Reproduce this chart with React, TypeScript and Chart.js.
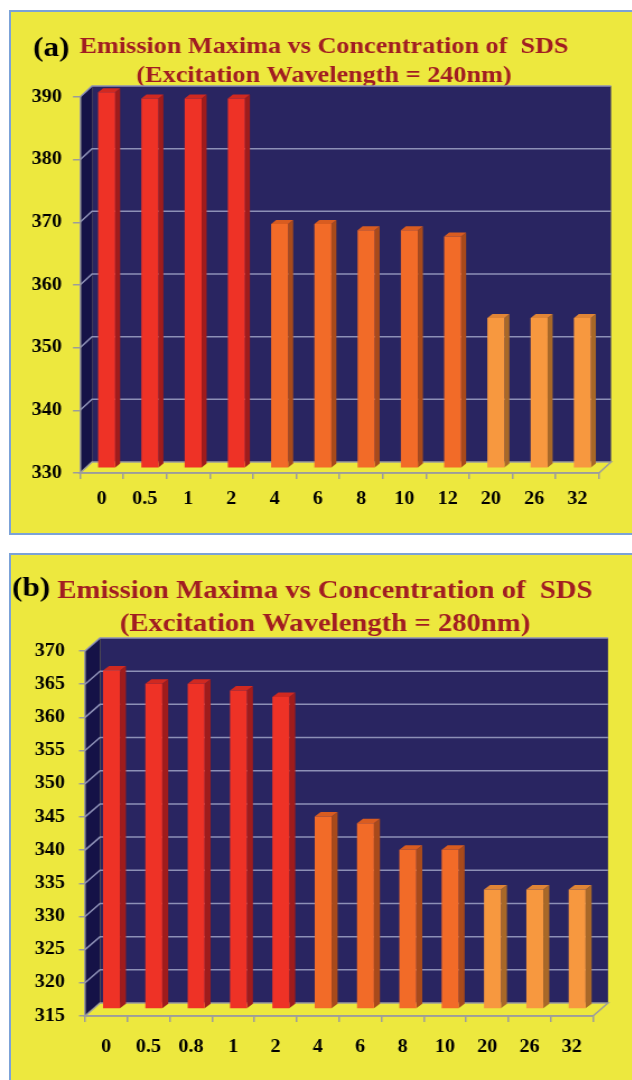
import React, { useEffect, useRef } from 'react';
import { Chart, registerables } from 'chart.js';

Chart.register(...registerables);

// The figure is wider than its lettering: each canvas is drawn narrow and stretched out horizontally.
const STRETCH = 1.12;
const PAGE_W = 632;
const PAGE_H = 1080;
const CANVAS_W = Math.floor(PAGE_W / STRETCH);

const YELLOW = '#ede83e';
const FRAME = '#7ba2d8';
const NAVY = '#292561';
const NAVY_SIDE = '#151247';
const GRID = '#8d90b6';
const AXIS = '#9c9c9c';
const TITLE_RED = '#a11d22';
const SERIF = '"Liberation Serif", "Times New Roman", serif';

// Panel (a): excitation at 240 nm
const concentrationsA = ['0', '0.5', '1', '2', '4', '6', '8', '10', '12', '20', '26', '32'];
const emissionA = [390, 389, 389, 389, 369, 369, 368, 368, 367, 354, 354, 354];
const yMinA = 330;
const yMaxA = 390;
const yStepA = 10;
const titleA = ['Emission Maxima vs Concentration of  SDS', '(Excitation Wavelength = 240nm)'];

// Panel (b): excitation at 280 nm
const concentrationsB = ['0', '0.5', '0.8', '1', '2', '4', '6', '8', '10', '20', '26', '32'];
const emissionB = [366, 364, 364, 363, 362, 344, 343, 339, 339, 333, 333, 333];
const yMinB = 315;
const yMaxB = 370;
const yStepB = 5;
const titleB = ['Emission Maxima vs Concentration of  SDS', '(Excitation Wavelength = 280nm)'];

type Tone = { front: string; top: string; side: string };
const RED: Tone = { front: '#ee3226', top: '#d02920', side: '#9f1c1c' };
const ORANGE: Tone = { front: '#f26b28', top: '#d95c20', side: '#a84a1b' };
const AMBER: Tone = { front: '#f7983f', top: '#e08536', side: '#a86828' };

const tonesA: Tone[] = [RED, RED, RED, RED, ORANGE, ORANGE, ORANGE, ORANGE, ORANGE, AMBER, AMBER, AMBER];
const tonesB: Tone[] = [RED, RED, RED, RED, RED, ORANGE, ORANGE, ORANGE, ORANGE, AMBER, AMBER, AMBER];

type PanelCfg = {
  tag: string;
  title: string[];
  labels: string[];
  values: number[];
  tones: Tone[];
  yMin: number;
  yMax: number;
  yStep: number;
  top: number; // page y of the panel
  height: number;
  frontLeft: number;
  frontRight: number;
  yTopPx: number;
  yBottomPx: number;
  wallDx: number;
  wallDy: number;
  barDx: number;
  barDy: number;
  barSide: number;
  barTop: number;
  barFrac: number;
  yTickLen: number;
  yLabelRight: number;
  xTickLen: number;
  xLabelPad: number;
  tickSize: number;
  titleX: number;
  titleY1: number;
  titleY2: number;
  titleSize: number;
  tagX: number;
  tagY: number;
  tagSize: number;
};

const panelA: PanelCfg = {
  tag: '(a)',
  title: titleA,
  labels: concentrationsA,
  values: emissionA,
  tones: tonesA,
  yMin: yMinA,
  yMax: yMaxA,
  yStep: yStepA,
  top: 10,
  height: 525,
  frontLeft: 80,
  frontRight: 599,
  yTopPx: 97,
  yBottomPx: 473,
  wallDx: 12,
  wallDy: -11,
  barDx: 5,
  barDy: -4.7,
  barSide: 5,
  barTop: 4,
  barFrac: 0.394,
  yTickLen: 7,
  yLabelRight: 62,
  xTickLen: 6,
  xLabelPad: 10,
  tickSize: 18,
  titleX: 324,
  titleY1: 53,
  titleY2: 82,
  titleSize: 23.4,
  tagX: 33,
  tagY: 56,
  tagSize: 28,
};

const panelB: PanelCfg = {
  tag: '(b)',
  title: titleB,
  labels: concentrationsB,
  values: emissionB,
  tones: tonesB,
  yMin: yMinB,
  yMax: yMaxB,
  yStep: yStepB,
  top: 553,
  height: PAGE_H - 553,
  frontLeft: 85,
  frontRight: 593,
  yTopPx: 651,
  yBottomPx: 1016,
  wallDx: 15,
  wallDy: -13,
  barDx: 5.3,
  barDy: -7,
  barSide: 6,
  barTop: 4.5,
  barFrac: 0.4,
  yTickLen: 6,
  yLabelRight: 65,
  xTickLen: 6,
  xLabelPad: 15,
  tickSize: 18,
  titleX: 325,
  titleY1: 598,
  titleY2: 631,
  titleSize: 25.6,
  tagX: 12,
  tagY: 596,
  tagSize: 28,
};

function Panel({ cfg }: { cfg: PanelCfg }) {
  const ref = useRef<HTMLCanvasElement>(null);

  useEffect(() => {
    const canvas = ref.current;
    if (!canvas) return;
    const H = cfg.height;
    const cx = (px: number) => px / STRETCH;
    const cy = (py: number) => py - cfg.top;

    const plotLeft = cx(cfg.frontLeft);
    const plotRight = cx(cfg.frontRight);
    const plotTop = cy(cfg.yTopPx);
    const plotBottom = cy(cfg.yBottomPx);
    const wdx = cfg.wallDx / STRETCH;
    const wdy = cfg.wallDy;
    const bdx = cfg.barDx / STRETCH;
    const bdy = cfg.barDy;
    const sx = cfg.barSide / STRETCH;
    const sy = cfg.barTop;

    // Titles, walls, floor and wall gridlines, drawn beneath the axes and bars.
    const backdrop = {
      id: 'backdrop',
      beforeDraw(chart: any) {
        const { ctx, chartArea: a, scales } = chart;
        const ys = scales.y;
        ctx.save();

        ctx.textBaseline = 'alphabetic';
        ctx.textAlign = 'center';
        ctx.fillStyle = TITLE_RED;
        ctx.font = `bold ${cfg.titleSize}px ${SERIF}`;
        ctx.fillText(cfg.title[0], cx(cfg.titleX), cy(cfg.titleY1));
        ctx.fillText(cfg.title[1], cx(cfg.titleX), cy(cfg.titleY2));
        ctx.textAlign = 'left';
        ctx.fillStyle = '#000000';
        ctx.font = `bold ${cfg.tagSize}px ${SERIF}`;
        ctx.fillText(cfg.tag, cx(cfg.tagX), cy(cfg.tagY));

        // back wall
        ctx.fillStyle = NAVY;
        ctx.fillRect(a.left + wdx, a.top + wdy, a.right - a.left, a.bottom - a.top);

        // left wall
        ctx.fillStyle = NAVY_SIDE;
        ctx.beginPath();
        ctx.moveTo(a.left, a.top);
        ctx.lineTo(a.left + wdx, a.top + wdy);
        ctx.lineTo(a.left + wdx, a.bottom + wdy);
        ctx.lineTo(a.left, a.bottom);
        ctx.closePath();
        ctx.fill();

        // floor
        ctx.fillStyle = YELLOW;
        ctx.strokeStyle = AXIS;
        ctx.lineWidth = 1.5;
        ctx.beginPath();
        ctx.moveTo(a.left, a.bottom);
        ctx.lineTo(a.left + wdx, a.bottom + wdy);
        ctx.lineTo(a.right + wdx, a.bottom + wdy);
        ctx.lineTo(a.right, a.bottom);
        ctx.closePath();
        ctx.fill();
        ctx.stroke();

        // gridlines across the left and back walls
        ctx.strokeStyle = GRID;
        ctx.lineWidth = 1.5;
        ys.ticks.forEach((t: any) => {
          if (t.value <= ys.min) return;
          const py = ys.getPixelForValue(t.value);
          ctx.beginPath();
          ctx.moveTo(a.left, py);
          ctx.lineTo(a.left + wdx, py + wdy);
          ctx.lineTo(a.right + wdx, py + wdy);
          ctx.stroke();
        });
        ctx.restore();
      },
    };

    // Sets the bars back into the box and gives each column its side and top faces.
    const extrude = {
      id: 'extrude',
      beforeDatasetDraw(chart: any, args: any) {
        const { ctx } = chart;
        ctx.save();
        ctx.translate(bdx, bdy);
        args.meta.data.forEach((el: any, i: number) => {
          const { x, y, base, width } = el.getProps(['x', 'y', 'base', 'width'], true);
          const l = x - width / 2;
          const r = x + width / 2;
          const t = Math.min(y, base);
          const b = Math.max(y, base);
          const tone = cfg.tones[i];
          ctx.fillStyle = tone.side;
          ctx.beginPath();
          ctx.moveTo(r, t);
          ctx.lineTo(r + sx, t - sy);
          ctx.lineTo(r + sx, b - sy);
          ctx.lineTo(r, b);
          ctx.closePath();
          ctx.fill();
          ctx.fillStyle = tone.top;
          ctx.beginPath();
          ctx.moveTo(l, t);
          ctx.lineTo(l + sx, t - sy);
          ctx.lineTo(r + sx, t - sy);
          ctx.lineTo(r, t);
          ctx.closePath();
          ctx.fill();
        });
      },
      afterDatasetDraw(chart: any) {
        chart.ctx.restore();
      },
    };

    const tickFont = { family: SERIF, weight: 'bold' as const, size: cfg.tickSize };

    const chart = new Chart(canvas, {
      type: 'bar',
      data: {
        labels: cfg.labels,
        datasets: [
          {
            data: cfg.values,
            base: cfg.yMin,
            backgroundColor: cfg.tones.map((t) => t.front),
            borderWidth: 0,
            barPercentage: cfg.barFrac,
            categoryPercentage: 1,
            clip: false as any,
          },
        ],
      },
      options: {
        responsive: false,
        animation: false,
        devicePixelRatio: 1,
        layout: {
          padding: { left: 0, top: plotTop, right: CANVAS_W - plotRight, bottom: 0 },
        },
        plugins: {
          legend: { display: false },
          title: { display: false },
          tooltip: { enabled: false },
        },
        scales: {
          x: {
            type: 'category',
            offset: true,
            grid: {
              offset: true,
              drawOnChartArea: false,
              drawTicks: true,
              tickLength: cfg.xTickLen,
              color: AXIS,
              lineWidth: 1.5,
            },
            border: { display: true, color: AXIS, width: 1.5 },
            ticks: {
              color: '#000000',
              font: tickFont,
              padding: cfg.xLabelPad,
              autoSkip: false,
              maxRotation: 0,
              minRotation: 0,
            },
            afterFit: (s: any) => {
              s.height = H - plotBottom;
            },
          },
          y: {
            min: cfg.yMin,
            max: cfg.yMax,
            grid: {
              drawOnChartArea: false,
              drawTicks: true,
              tickLength: cfg.yTickLen / STRETCH,
              color: AXIS,
              lineWidth: 1.5,
            },
            border: { display: true, color: AXIS, width: 1.5 },
            ticks: {
              stepSize: cfg.yStep,
              color: '#000000',
              font: tickFont,
              padding: (cfg.frontLeft - cfg.yLabelRight - cfg.yTickLen) / STRETCH,
            },
            afterFit: (s: any) => {
              s.width = plotLeft;
            },
          },
        },
      } as any,
      plugins: [backdrop, extrude],
    });

    return () => chart.destroy();
  }, [cfg]);

  return (
    <>
      <div
        style={{
          position: 'absolute',
          left: 9,
          top: cfg.top,
          width: PAGE_W + 20,
          height: cfg.height + (cfg.top + cfg.height >= PAGE_H ? 20 : 0),
          boxSizing: 'border-box',
          border: `2px solid ${FRAME}`,
          background: YELLOW,
        }}
      />
      <div
        style={{
          position: 'absolute',
          left: 0,
          top: cfg.top,
          width: CANVAS_W,
          height: cfg.height,
          transform: `scaleX(${STRETCH})`,
          transformOrigin: '0 0',
        }}
      >
        <canvas ref={ref} width={CANVAS_W} height={cfg.height} style={{ display: 'block' }} />
      </div>
    </>
  );
}

export default function App() {
  return (
    <div
      style={{
        position: 'fixed',
        left: 0,
        top: 0,
        width: PAGE_W,
        height: PAGE_H,
        overflow: 'hidden',
        background: '#ffffff',
      }}
    >
      <Panel cfg={panelA} />
      <Panel cfg={panelB} />
    </div>
  );
}
